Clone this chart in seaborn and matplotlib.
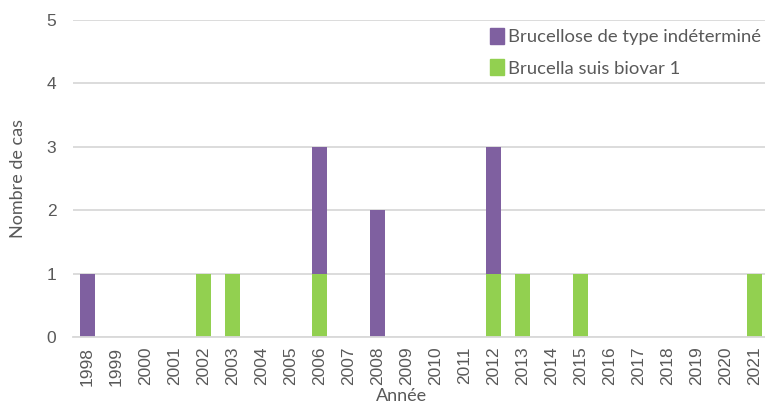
import numpy as np
import pandas as pd
import matplotlib
matplotlib.use("Agg")
import matplotlib.pyplot as plt
import seaborn as sns
from matplotlib.patches import Patch

years = [str(y) for y in range(1998, 2022)]
suis_biovar_1 = [0, 0, 0, 0, 1, 1, 0, 0, 1, 0, 0, 0, 0, 0, 1, 1, 0, 1, 0, 0, 0, 0, 0, 1]
indetermine = [1, 0, 0, 0, 0, 0, 0, 0, 2, 0, 2, 0, 0, 0, 2, 0, 0, 0, 0, 0, 0, 0, 0, 0]

purple = "#7F60A0"
green = "#92D050"
grey_txt = "#595959"

df = pd.DataFrame({"annee": years, "suis": suis_biovar_1, "indet": indetermine})
df["total"] = df["suis"] + df["indet"]

sns.set_style("white")
plt.rcParams["font.family"] = ["Lato", "DejaVu Sans"]

fig = plt.figure(figsize=(7.65, 4.03), dpi=100)
# axes slightly wider than the figure, like the cropped original
ax = fig.add_axes([73 / 765, 66 / 403, 696 / 765, 317 / 403])

sns.barplot(data=df, x="annee", y="total", color=purple, width=0.55, saturation=1,
            linewidth=0, ax=ax)
sns.barplot(data=df, x="annee", y="suis", color=green, width=0.55, saturation=1,
            linewidth=0, ax=ax)

ax.set_ylim(0, 5)
ax.set_yticks(range(6))
ax.yaxis.grid(True, color="#D9D9D9", linewidth=1.3)
ax.set_axisbelow(True)
for s in ["top", "right", "left"]:
    ax.spines[s].set_visible(False)
ax.spines["bottom"].set_color("#D9D9D9")
ax.spines["bottom"].set_linewidth(1.3)
ax.tick_params(axis="x", rotation=90, length=0, pad=7)
ax.tick_params(axis="y", length=0, pad=12)
for lab in ax.get_xticklabels() + ax.get_yticklabels():
    lab.set_family(["Liberation Sans", "DejaVu Sans"])
    lab.set_fontsize(12.5)
    lab.set_color(grey_txt)

ax.set_xlabel("Année", fontsize=13, color=grey_txt, va="top")
ax.xaxis.set_label_coords((402 - 73) / 696, -0.16)
ax.set_ylabel("Nombre de cas", fontsize=13, color=grey_txt, va="center")
ax.yaxis.set_label_coords((18 - 73) / 696, 0.5)

handles = [Patch(color=purple, label="Brucellose de type indéterminé"),
           Patch(color=green, label="Brucella suis biovar 1")]
leg = ax.legend(handles=handles, loc="upper left", bbox_to_anchor=((477 - 73) / 696, 1.015),
                frameon=False, fontsize=13.3, handlelength=0.75, handleheight=0.95,
                handletextpad=0.25, labelspacing=0.75, borderpad=0.2)
for t in leg.get_texts():
    t.set_color(grey_txt)

fig.savefig("out.png", dpi=100)
